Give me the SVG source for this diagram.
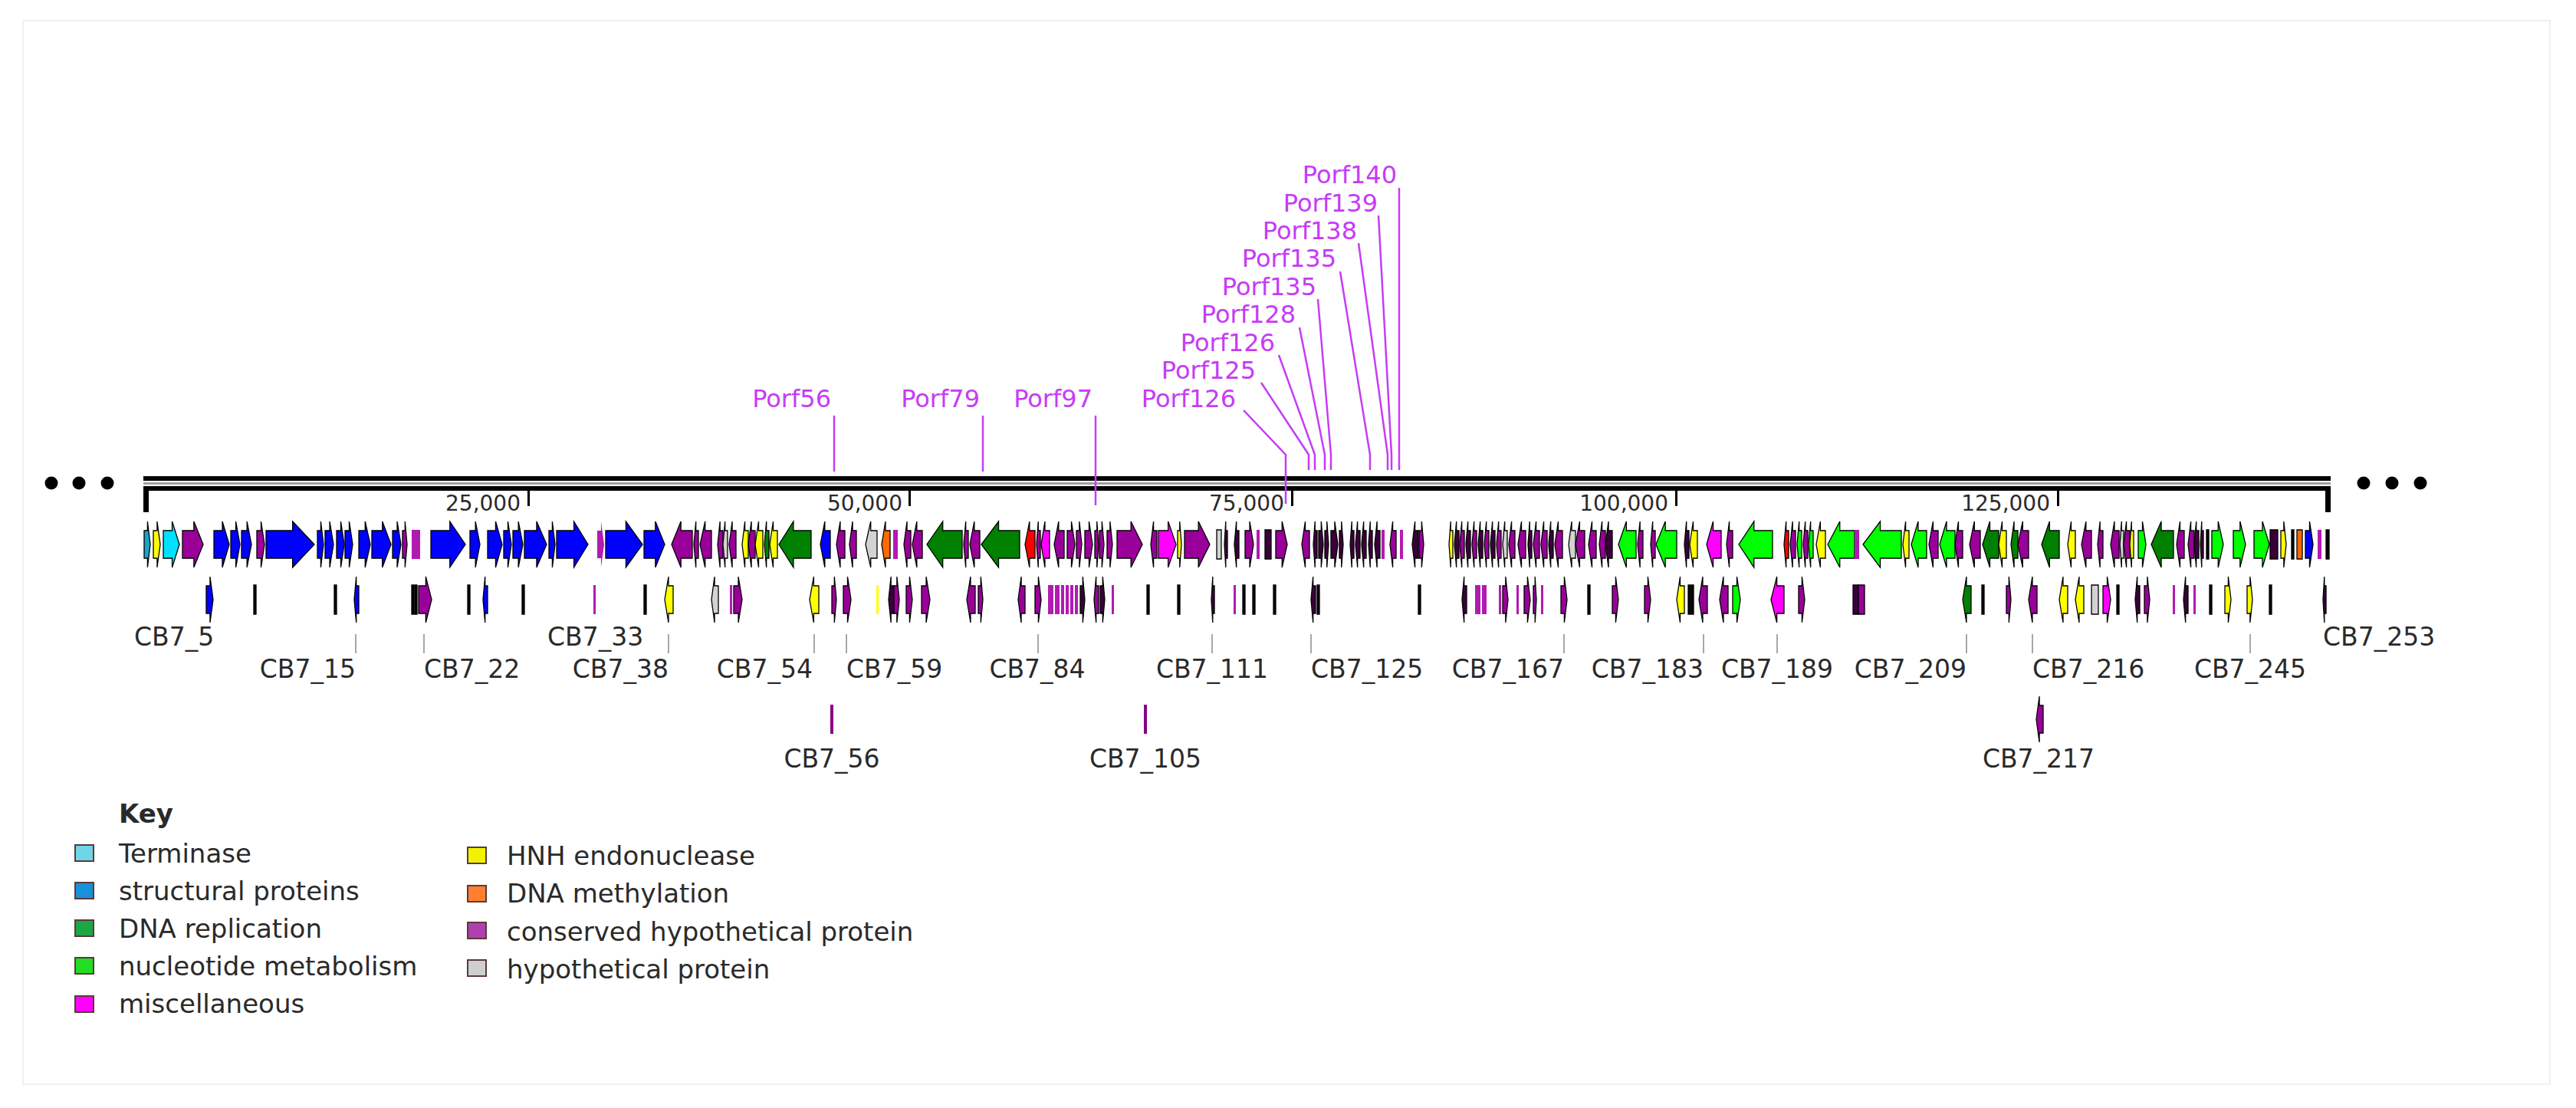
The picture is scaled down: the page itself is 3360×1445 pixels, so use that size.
<svg xmlns="http://www.w3.org/2000/svg" width="3360" height="1445" viewBox="0 0 3360 1445">
<style>
text{font-family:"DejaVu Sans",Verdana,sans-serif}
use{stroke:#000;stroke-width:1.3}
.t{fill:#1fa3c8}.c{fill:#00e1ff}.y{fill:#ffff00}.p{fill:#990099}.p2{fill:#b21bb2;stroke:none}.y2{fill:#ffff00;stroke:none}
.b{fill:#0000ff}.h{fill:#d3d3d3}.g{fill:#008000}.l{fill:#00ff00}.m{fill:#ff00ff}.o{fill:#ff6a00}.r{fill:#ff0000}.d{fill:#3a003a}.k{fill:#000}
.porf{fill:#c63cf5;font-size:32px}
.pl{stroke:#c63cf5;stroke-width:2.5;fill:none}
.cb{fill:#2a2a2a;font-size:33px}
.ld{stroke:#8a8a8a;stroke-width:1.5}
.sc{fill:#2a2a2a;font-size:28px;text-anchor:end}
.lg{fill:#2a2a2a;font-size:34px}
.sq{stroke:#5a3a3a;stroke-width:2}
</style>
<defs>
<path id="F" d="M0,-18H.55V-30L1,0L.55,30V18H0Z" vector-effect="non-scaling-stroke"/>
<path id="R" d="M1,-18H.45V-30L0,0L.45,30V18H1Z" vector-effect="non-scaling-stroke"/>
<path id="N" d="M0,-19H1V19H0Z" vector-effect="non-scaling-stroke"/>
</defs>
<rect x="0" y="0" width="3360" height="1445" fill="#fff"/>
<rect x="30" y="27" width="3296" height="1387" fill="none" stroke="#f0f0f0" stroke-width="2"/>

<g id="axis">
<circle cx="67" cy="630" r="8.5"/><circle cx="103" cy="630" r="8.5"/><circle cx="140" cy="630" r="8.5"/>
<circle cx="3083" cy="630" r="8.5"/><circle cx="3120" cy="630" r="8.5"/><circle cx="3157" cy="630" r="8.5"/>
<rect x="187" y="621" width="2853" height="6" fill="#000"/>
<rect x="187" y="629" width="2853" height="3" fill="#a0a0a0"/>
<rect x="187" y="634" width="2853" height="6" fill="#000"/>
<rect x="187" y="634" width="7" height="34" fill="#000"/>
<rect x="3033" y="634" width="7" height="34" fill="#000"/>
<g fill="#000"><rect x="688" y="640" width="3" height="20"/><rect x="1185" y="640" width="3" height="20"/><rect x="1684" y="640" width="3" height="20"/><rect x="2185" y="640" width="3" height="20"/><rect x="2683" y="640" width="3" height="20"/></g>
<text class="sc" x="679" y="666">25,000</text>
<text class="sc" x="1177" y="666">50,000</text>
<text class="sc" x="1675" y="666">75,000</text>
<text class="sc" x="2176" y="666">100,000</text>
<text class="sc" x="2674" y="666">125,000</text>
</g>

<g id="genes-top">
<use href="#F" class="t" transform="matrix(8 0 0 1 188 710)"/>
<use href="#F" class="y" transform="matrix(9 0 0 1 200 710)"/>
<use href="#F" class="c" transform="matrix(21 0 0 1 213 710)"/>
<use href="#F" class="p" transform="matrix(27 0 0 1 238 710)"/>
<use href="#F" class="b" transform="matrix(20 0 0 1 279 710)"/>
<use href="#F" class="b" transform="matrix(12 0 0 1 301 710)"/>
<use href="#F" class="b" transform="matrix(13 0 0 1 315 710)"/>
<use href="#F" class="p" transform="matrix(10 0 0 1 335 710)"/>
<use href="#F" class="b" transform="matrix(63 0 0 1 347 710)"/>
<use href="#F" class="b" transform="matrix(8 0 0 1 414 710)"/>
<use href="#F" class="b" transform="matrix(11 0 0 1 424 710)"/>
<use href="#F" class="b" transform="matrix(10 0 0 1 439 710)"/>
<use href="#F" class="b" transform="matrix(10 0 0 1 450 710)"/>
<use href="#F" class="b" transform="matrix(15 0 0 1 468 710)"/>
<use href="#F" class="b" transform="matrix(25 0 0 1 485 710)"/>
<use href="#F" class="b" transform="matrix(11 0 0 1 512 710)"/>
<use href="#F" class="p" transform="matrix(6 0 0 1 525 710)"/>
<use href="#N" class="p2" transform="matrix(11 0 0 1 537 710)"/>
<use href="#F" class="b" transform="matrix(45 0 0 1 562 710)"/>
<use href="#F" class="b" transform="matrix(13 0 0 1 613 710)"/>
<use href="#F" class="b" transform="matrix(19 0 0 1 636 710)"/>
<use href="#F" class="b" transform="matrix(10 0 0 1 657 710)"/>
<use href="#F" class="b" transform="matrix(13 0 0 1 669 710)"/>
<use href="#F" class="b" transform="matrix(29 0 0 1 684 710)"/>
<use href="#F" class="b" transform="matrix(8 0 0 1 716 710)"/>
<use href="#F" class="b" transform="matrix(41 0 0 1 726 710)"/>
<use href="#F" class="p2" transform="matrix(9 0 0 1 779 710)"/>
<use href="#F" class="b" transform="matrix(48 0 0 1 790 710)"/>
<use href="#F" class="b" transform="matrix(27 0 0 1 840 710)"/>
<use href="#R" class="p" transform="matrix(27 0 0 1 876 710)"/>
<use href="#R" class="p" transform="matrix(6 0 0 1 905 710)"/>
<use href="#R" class="p" transform="matrix(15 0 0 1 913 710)"/>
<use href="#R" class="p" transform="matrix(7 0 0 1 936 710)"/>
<use href="#R" class="h" transform="matrix(6 0 0 1 943 710)"/>
<use href="#R" class="p" transform="matrix(9 0 0 1 951 710)"/>
<use href="#R" class="y" transform="matrix(8 0 0 1 968 710)"/>
<use href="#R" class="p" transform="matrix(9 0 0 1 976 710)"/>
<use href="#R" class="y" transform="matrix(10 0 0 1 985 710)"/>
<use href="#R" class="g" transform="matrix(6 0 0 1 997 710)"/>
<use href="#R" class="y" transform="matrix(10 0 0 1 1004 710)"/>
<use href="#R" class="g" transform="matrix(42 0 0 1 1016 710)"/>
<use href="#R" class="b" transform="matrix(13 0 0 1 1070 710)"/>
<use href="#R" class="p" transform="matrix(11 0 0 1 1091 710)"/>
<use href="#R" class="p" transform="matrix(9 0 0 1 1108 710)"/>
<use href="#R" class="h" transform="matrix(15 0 0 1 1129 710)"/>
<use href="#R" class="o" transform="matrix(11 0 0 1 1150 710)"/>
<use href="#N" class="p2" transform="matrix(6 0 0 1 1165 710)"/>
<use href="#R" class="p" transform="matrix(9 0 0 1 1179 710)"/>
<use href="#R" class="p" transform="matrix(13 0 0 1 1190 710)"/>
<use href="#R" class="g" transform="matrix(46 0 0 1 1209 710)"/>
<use href="#R" class="p" transform="matrix(6 0 0 1 1257 710)"/>
<use href="#R" class="p" transform="matrix(13 0 0 1 1265 710)"/>
<use href="#R" class="g" transform="matrix(50 0 0 1 1280 710)"/>
<use href="#R" class="r" transform="matrix(13 0 0 1 1337 710)"/>
<use href="#R" class="p" transform="matrix(5 0 0 1 1352 710)"/>
<use href="#R" class="m" transform="matrix(11 0 0 1 1358 710)"/>
<use href="#R" class="p" transform="matrix(13 0 0 1 1375 710)"/>
<use href="#F" class="p" transform="matrix(10 0 0 1 1392 710)"/>
<use href="#F" class="p" transform="matrix(7 0 0 1 1404 710)"/>
<use href="#F" class="p" transform="matrix(10 0 0 1 1415 710)"/>
<use href="#F" class="p" transform="matrix(5 0 0 1 1428 710)"/>
<use href="#F" class="p" transform="matrix(6 0 0 1 1434 710)"/>
<use href="#F" class="p" transform="matrix(7 0 0 1 1444 710)"/>
<use href="#F" class="p" transform="matrix(33 0 0 1 1457 710)"/>
<use href="#R" class="p" transform="matrix(8 0 0 1 1501 710)"/>
<use href="#F" class="m" transform="matrix(23 0 0 1 1511 710)"/>
<use href="#F" class="y" transform="matrix(5 0 0 1 1536 710)"/>
<use href="#F" class="p" transform="matrix(33 0 0 1 1545 710)"/>
<use href="#N" class="h" transform="matrix(6 0 0 1 1587 710)"/>
<use href="#R" class="d" transform="matrix(4 0 0 1 1597 710)"/>
<use href="#R" class="d" transform="matrix(6 0 0 1 1610 710)"/>
<use href="#F" class="p" transform="matrix(11 0 0 1 1624 710)"/>
<use href="#N" class="p2" transform="matrix(4 0 0 1 1639 710)"/>
<use href="#N" class="d" transform="matrix(8 0 0 1 1650 710)"/>
<use href="#F" class="p" transform="matrix(15 0 0 1 1664 710)"/>
<use href="#R" class="p" transform="matrix(10 0 0 1 1698 710)"/>
<use href="#R" class="d" transform="matrix(5 0 0 1 1713 710)"/>
<use href="#F" class="d" transform="matrix(6 0 0 1 1720 710)"/>
<use href="#F" class="d" transform="matrix(5 0 0 1 1728 710)"/>
<use href="#F" class="d" transform="matrix(9 0 0 1 1736 710)"/>
<use href="#F" class="d" transform="matrix(5 0 0 1 1747 710)"/>
<use href="#R" class="d" transform="matrix(5 0 0 1 1761 710)"/>
<use href="#R" class="d" transform="matrix(6 0 0 1 1768 710)"/>
<use href="#R" class="d" transform="matrix(6 0 0 1 1776 710)"/>
<use href="#R" class="d" transform="matrix(5 0 0 1 1785 710)"/>
<use href="#R" class="d" transform="matrix(7 0 0 1 1793 710)"/>
<use href="#N" class="p2" transform="matrix(4 0 0 1 1802 710)"/>
<use href="#R" class="p" transform="matrix(8 0 0 1 1813 710)"/>
<use href="#N" class="p2" transform="matrix(4 0 0 1 1826 710)"/>
<use href="#R" class="d" transform="matrix(8 0 0 1 1842 710)"/>
<use href="#F" class="p" transform="matrix(6 0 0 1 1851 710)"/>
<use href="#R" class="y" transform="matrix(5 0 0 1 1890 710)"/>
<use href="#R" class="d" transform="matrix(6 0 0 1 1897 710)"/>
<use href="#R" class="p" transform="matrix(6 0 0 1 1904 710)"/>
<use href="#R" class="d" transform="matrix(6 0 0 1 1912 710)"/>
<use href="#R" class="p" transform="matrix(6 0 0 1 1920 710)"/>
<use href="#R" class="d" transform="matrix(6 0 0 1 1928 710)"/>
<use href="#R" class="p" transform="matrix(6 0 0 1 1936 710)"/>
<use href="#R" class="d" transform="matrix(6 0 0 1 1944 710)"/>
<use href="#R" class="p" transform="matrix(6 0 0 1 1952 710)"/>
<use href="#R" class="h" transform="matrix(6 0 0 1 1960 710)"/>
<use href="#R" class="p" transform="matrix(8 0 0 1 1968 710)"/>
<use href="#R" class="p" transform="matrix(10 0 0 1 1980 710)"/>
<use href="#R" class="d" transform="matrix(5 0 0 1 1993 710)"/>
<use href="#R" class="p" transform="matrix(8 0 0 1 2000 710)"/>
<use href="#R" class="p" transform="matrix(8 0 0 1 2010 710)"/>
<use href="#R" class="d" transform="matrix(6 0 0 1 2020 710)"/>
<use href="#R" class="p" transform="matrix(10 0 0 1 2028 710)"/>
<use href="#R" class="h" transform="matrix(9 0 0 1 2046 710)"/>
<use href="#R" class="p" transform="matrix(12 0 0 1 2055 710)"/>
<use href="#R" class="p" transform="matrix(10 0 0 1 2072 710)"/>
<use href="#R" class="p" transform="matrix(8 0 0 1 2086 710)"/>
<use href="#R" class="d" transform="matrix(9 0 0 1 2094 710)"/>
<use href="#R" class="l" transform="matrix(23 0 0 1 2111 710)"/>
<use href="#R" class="p" transform="matrix(7 0 0 1 2136 710)"/>
<use href="#R" class="p" transform="matrix(6 0 0 1 2153 710)"/>
<use href="#R" class="l" transform="matrix(27 0 0 1 2160 710)"/>
<use href="#R" class="d" transform="matrix(6 0 0 1 2197 710)"/>
<use href="#R" class="y" transform="matrix(10 0 0 1 2204 710)"/>
<use href="#R" class="m" transform="matrix(19 0 0 1 2226 710)"/>
<use href="#R" class="p" transform="matrix(8 0 0 1 2252 710)"/>
<use href="#R" class="l" transform="matrix(44 0 0 1 2268 710)"/>
<use href="#R" class="r" transform="matrix(6 0 0 1 2327 710)"/>
<use href="#R" class="p" transform="matrix(7 0 0 1 2335 710)"/>
<use href="#R" class="l" transform="matrix(6 0 0 1 2344 710)"/>
<use href="#R" class="p" transform="matrix(6 0 0 1 2352 710)"/>
<use href="#R" class="l" transform="matrix(6 0 0 1 2359 710)"/>
<use href="#R" class="y" transform="matrix(12 0 0 1 2369 710)"/>
<use href="#R" class="l" transform="matrix(35 0 0 1 2384 710)"/>
<use href="#N" class="p2" transform="matrix(6 0 0 1 2419 710)"/>
<use href="#R" class="l" transform="matrix(50 0 0 1 2430 710)"/>
<use href="#R" class="y" transform="matrix(8 0 0 1 2482 710)"/>
<use href="#R" class="l" transform="matrix(20 0 0 1 2493 710)"/>
<use href="#R" class="p" transform="matrix(12 0 0 1 2516 710)"/>
<use href="#R" class="l" transform="matrix(20 0 0 1 2530 710)"/>
<use href="#R" class="p" transform="matrix(10 0 0 1 2550 710)"/>
<use href="#R" class="p" transform="matrix(14 0 0 1 2569 710)"/>
<use href="#R" class="g" transform="matrix(21 0 0 1 2586 710)"/>
<use href="#R" class="y" transform="matrix(10 0 0 1 2607 710)"/>
<use href="#R" class="g" transform="matrix(9 0 0 1 2623 710)"/>
<use href="#R" class="p" transform="matrix(14 0 0 1 2632 710)"/>
<use href="#R" class="g" transform="matrix(23 0 0 1 2663 710)"/>
<use href="#R" class="y" transform="matrix(10 0 0 1 2697 710)"/>
<use href="#R" class="p" transform="matrix(13 0 0 1 2715 710)"/>
<use href="#R" class="p" transform="matrix(7 0 0 1 2736 710)"/>
<use href="#R" class="p" transform="matrix(11 0 0 1 2753 710)"/>
<use href="#R" class="h" transform="matrix(5 0 0 1 2765 710)"/>
<use href="#R" class="p" transform="matrix(8 0 0 1 2770 710)"/>
<use href="#R" class="y" transform="matrix(5 0 0 1 2778 710)"/>
<use href="#F" class="l" transform="matrix(10 0 0 1 2789 710)"/>
<use href="#R" class="g" transform="matrix(29 0 0 1 2806 710)"/>
<use href="#R" class="p" transform="matrix(10 0 0 1 2839 710)"/>
<use href="#R" class="p" transform="matrix(8 0 0 1 2854 710)"/>
<use href="#R" class="d" transform="matrix(6 0 0 1 2862 710)"/>
<use href="#R" class="d" transform="matrix(4 0 0 1 2870 710)"/>
<use href="#N" class="k" transform="matrix(3 0 0 1 2878 710)"/>
<use href="#F" class="l" transform="matrix(15 0 0 1 2885 710)"/>
<use href="#F" class="l" transform="matrix(16 0 0 1 2913 710)"/>
<use href="#F" class="l" transform="matrix(20 0 0 1 2940 710)"/>
<use href="#N" class="d" transform="matrix(10 0 0 1 2961 710)"/>
<use href="#F" class="y" transform="matrix(7 0 0 1 2975 710)"/>
<use href="#N" class="k" transform="matrix(3 0 0 1 2989 710)"/>
<use href="#N" class="o" transform="matrix(7 0 0 1 2996 710)"/>
<use href="#F" class="b" transform="matrix(10 0 0 1 3007 710)"/>
<use href="#N" class="p2" transform="matrix(5 0 0 1 3023 710)"/>
<use href="#N" class="k" transform="matrix(4 0 0 1 3034 710)"/>
</g>

<g id="genes-bottom">
<use href="#F" class="b" transform="matrix(9 0 0 1 269 782)"/>
<use href="#N" class="k" transform="matrix(3 0 0 1 331 782)"/>
<use href="#N" class="k" transform="matrix(3 0 0 1 436 782)"/>
<use href="#R" class="b" transform="matrix(6 0 0 1 462 782)"/>
<use href="#N" class="k" transform="matrix(3 0 0 1 537 782)"/>
<use href="#N" class="k" transform="matrix(3 0 0 1 541 782)"/>
<use href="#F" class="p" transform="matrix(17 0 0 1 546 782)"/>
<use href="#N" class="k" transform="matrix(3 0 0 1 610 782)"/>
<use href="#R" class="b" transform="matrix(6 0 0 1 630 782)"/>
<use href="#N" class="k" transform="matrix(3 0 0 1 681 782)"/>
<use href="#N" class="p2" transform="matrix(3 0 0 1 774 782)"/>
<use href="#N" class="k" transform="matrix(3 0 0 1 840 782)"/>
<use href="#R" class="y" transform="matrix(11 0 0 1 867 782)"/>
<use href="#R" class="h" transform="matrix(9 0 0 1 928 782)"/>
<use href="#N" class="p2" transform="matrix(3 0 0 1 952 782)"/>
<use href="#F" class="p" transform="matrix(11 0 0 1 957 782)"/>
<use href="#R" class="y" transform="matrix(12 0 0 1 1056 782)"/>
<use href="#F" class="p" transform="matrix(6 0 0 1 1085 782)"/>
<use href="#F" class="p" transform="matrix(10 0 0 1 1100 782)"/>
<use href="#N" class="y2" transform="matrix(3 0 0 1 1143 782)"/>
<use href="#R" class="d" transform="matrix(7 0 0 1 1159 782)"/>
<use href="#F" class="p" transform="matrix(7 0 0 1 1166 782)"/>
<use href="#F" class="p" transform="matrix(8 0 0 1 1182 782)"/>
<use href="#F" class="p" transform="matrix(11 0 0 1 1202 782)"/>
<use href="#R" class="p" transform="matrix(11 0 0 1 1261 782)"/>
<use href="#F" class="p" transform="matrix(6 0 0 1 1276 782)"/>
<use href="#R" class="p" transform="matrix(9 0 0 1 1328 782)"/>
<use href="#F" class="p" transform="matrix(8 0 0 1 1350 782)"/>
<use href="#N" class="p2" transform="matrix(7 0 0 1 1367 782)"/>
<use href="#N" class="p2" transform="matrix(6 0 0 1 1376 782)"/>
<use href="#N" class="p2" transform="matrix(4 0 0 1 1384 782)"/>
<use href="#N" class="p2" transform="matrix(4 0 0 1 1390 782)"/>
<use href="#N" class="p2" transform="matrix(4 0 0 1 1396 782)"/>
<use href="#N" class="p2" transform="matrix(4 0 0 1 1402 782)"/>
<use href="#F" class="d" transform="matrix(6 0 0 1 1409 782)"/>
<use href="#R" class="p" transform="matrix(6 0 0 1 1427 782)"/>
<use href="#F" class="d" transform="matrix(6 0 0 1 1435 782)"/>
<use href="#N" class="p2" transform="matrix(3 0 0 1 1450 782)"/>
<use href="#N" class="k" transform="matrix(3 0 0 1 1496 782)"/>
<use href="#N" class="k" transform="matrix(3 0 0 1 1536 782)"/>
<use href="#R" class="d" transform="matrix(4 0 0 1 1580 782)"/>
<use href="#N" class="p2" transform="matrix(3 0 0 1 1609 782)"/>
<use href="#N" class="k" transform="matrix(3 0 0 1 1621 782)"/>
<use href="#N" class="k" transform="matrix(3 0 0 1 1634 782)"/>
<use href="#N" class="k" transform="matrix(3 0 0 1 1661 782)"/>
<use href="#R" class="d" transform="matrix(6 0 0 1 1710 782)"/>
<use href="#N" class="k" transform="matrix(3 0 0 1 1718 782)"/>
<use href="#N" class="k" transform="matrix(3 0 0 1 1850 782)"/>
<use href="#R" class="d" transform="matrix(6 0 0 1 1907 782)"/>
<use href="#N" class="p2" transform="matrix(7 0 0 1 1924 782)"/>
<use href="#N" class="p2" transform="matrix(6 0 0 1 1933 782)"/>
<use href="#N" class="p2" transform="matrix(3 0 0 1 1955 782)"/>
<use href="#F" class="p" transform="matrix(7 0 0 1 1960 782)"/>
<use href="#N" class="p2" transform="matrix(3 0 0 1 1978 782)"/>
<use href="#F" class="p" transform="matrix(8 0 0 1 1988 782)"/>
<use href="#F" class="p" transform="matrix(4 0 0 1 2000 782)"/>
<use href="#N" class="p2" transform="matrix(3 0 0 1 2010 782)"/>
<use href="#F" class="p" transform="matrix(8 0 0 1 2036 782)"/>
<use href="#N" class="k" transform="matrix(3 0 0 1 2071 782)"/>
<use href="#F" class="p" transform="matrix(8 0 0 1 2103 782)"/>
<use href="#F" class="p" transform="matrix(8 0 0 1 2145 782)"/>
<use href="#R" class="y" transform="matrix(10 0 0 1 2187 782)"/>
<use href="#N" class="k" transform="matrix(3 0 0 1 2202 782)"/>
<use href="#N" class="k" transform="matrix(3 0 0 1 2206 782)"/>
<use href="#R" class="p" transform="matrix(11 0 0 1 2216 782)"/>
<use href="#R" class="p" transform="matrix(11 0 0 1 2243 782)"/>
<use href="#F" class="l" transform="matrix(10 0 0 1 2260 782)"/>
<use href="#R" class="m" transform="matrix(17 0 0 1 2310 782)"/>
<use href="#F" class="p" transform="matrix(8 0 0 1 2346 782)"/>
<use href="#N" class="d" transform="matrix(7 0 0 1 2417 782)"/>
<use href="#N" class="p" transform="matrix(8 0 0 1 2424 782)"/>
<use href="#R" class="g" transform="matrix(11 0 0 1 2560 782)"/>
<use href="#N" class="k" transform="matrix(3 0 0 1 2585 782)"/>
<use href="#F" class="p" transform="matrix(6 0 0 1 2617 782)"/>
<use href="#R" class="p" transform="matrix(11 0 0 1 2646 782)"/>
<use href="#R" class="y" transform="matrix(11 0 0 1 2686 782)"/>
<use href="#R" class="y" transform="matrix(11 0 0 1 2707 782)"/>
<use href="#N" class="h" transform="matrix(9 0 0 1 2728 782)"/>
<use href="#F" class="m" transform="matrix(10 0 0 1 2743 782)"/>
<use href="#N" class="k" transform="matrix(3 0 0 1 2761 782)"/>
<use href="#R" class="d" transform="matrix(6 0 0 1 2785 782)"/>
<use href="#F" class="p" transform="matrix(7 0 0 1 2797 782)"/>
<use href="#N" class="p2" transform="matrix(3 0 0 1 2834 782)"/>
<use href="#R" class="d" transform="matrix(6 0 0 1 2848 782)"/>
<use href="#N" class="p2" transform="matrix(3 0 0 1 2861 782)"/>
<use href="#N" class="k" transform="matrix(3 0 0 1 2882 782)"/>
<use href="#F" class="y" transform="matrix(8 0 0 1 2902 782)"/>
<use href="#F" class="y" transform="matrix(7 0 0 1 2931 782)"/>
<use href="#N" class="k" transform="matrix(3 0 0 1 2960 782)"/>
<use href="#R" class="d" transform="matrix(4 0 0 1 3030 782)"/>
</g>

<g id="genes-third">
<use href="#N" class="p2" transform="matrix(4 0 0 1 1083 938)" style="fill:#880088"/>
<use href="#N" class="p2" transform="matrix(4 0 0 1 1492 938)" style="fill:#880088"/>
<use href="#R" class="p" transform="matrix(9 0 0 1 2656 938)"/>
</g>

<g id="gene-label-leaders" class="ld">
<line x1="464" y1="827" x2="464" y2="852"/>
<line x1="553" y1="827" x2="553" y2="852"/>
<line x1="872" y1="827" x2="872" y2="852"/>
<line x1="1062" y1="827" x2="1062" y2="852"/>
<line x1="1104" y1="827" x2="1104" y2="852"/>
<line x1="1354" y1="827" x2="1354" y2="852"/>
<line x1="1581" y1="827" x2="1581" y2="852"/>
<line x1="1710" y1="827" x2="1710" y2="852"/>
<line x1="2040" y1="827" x2="2040" y2="852"/>
<line x1="2222" y1="827" x2="2222" y2="852"/>
<line x1="2318" y1="827" x2="2318" y2="852"/>
<line x1="2565" y1="827" x2="2565" y2="852"/>
<line x1="2651" y1="827" x2="2651" y2="852"/>
<line x1="2935" y1="827" x2="2935" y2="852"/>
</g>

<g id="gene-labels">
<text class="cb" x="175" y="842">CB7_5</text>
<text class="cb" x="714" y="842">CB7_33</text>
<text class="cb" x="3030" y="842">CB7_253</text>
<text class="cb" x="464" y="884" text-anchor="end">CB7_15</text>
<text class="cb" x="553" y="884">CB7_22</text>
<text class="cb" x="872" y="884" text-anchor="end">CB7_38</text>
<text class="cb" x="1060" y="884" text-anchor="end">CB7_54</text>
<text class="cb" x="1104" y="884">CB7_59</text>
<text class="cb" x="1353" y="884" text-anchor="middle">CB7_84</text>
<text class="cb" x="1581" y="884" text-anchor="middle">CB7_111</text>
<text class="cb" x="1710" y="884">CB7_125</text>
<text class="cb" x="2040" y="884" text-anchor="end">CB7_167</text>
<text class="cb" x="2222" y="884" text-anchor="end">CB7_183</text>
<text class="cb" x="2318" y="884" text-anchor="middle">CB7_189</text>
<text class="cb" x="2565" y="884" text-anchor="end">CB7_209</text>
<text class="cb" x="2651" y="884">CB7_216</text>
<text class="cb" x="2935" y="884" text-anchor="middle">CB7_245</text>
<text class="cb" x="1085" y="1001" text-anchor="middle">CB7_56</text>
<text class="cb" x="1494" y="1001" text-anchor="middle">CB7_105</text>
<text class="cb" x="2659" y="1001" text-anchor="middle">CB7_217</text>
</g>

<g id="connectors" class="pl">
<path d="M1825 245V613"/>
<path d="M1798 281L1815 593V613"/>
<path d="M1772 317L1810 593V613"/>
<path d="M1748 354L1787 593V613"/>
<path d="M1719 390L1736 593V613"/>
<path d="M1695 427L1728 593V613"/>
<path d="M1668 463L1715 593V613"/>
<path d="M1645 499L1707 593V613"/>
<path d="M1622 535L1677 593V657"/>
<path d="M1088 542V615"/>
<path d="M1282 542V615"/>
<path d="M1429 542V659"/>
</g>

<g id="porf-labels" text-anchor="end">
<text class="porf" x="1822" y="239">Porf140</text>
<text class="porf" x="1797" y="276">Porf139</text>
<text class="porf" x="1770" y="312">Porf138</text>
<text class="porf" x="1743" y="348">Porf135</text>
<text class="porf" x="1717" y="385">Porf135</text>
<text class="porf" x="1690" y="421">Porf128</text>
<text class="porf" x="1663" y="458">Porf126</text>
<text class="porf" x="1638" y="494">Porf125</text>
<text class="porf" x="1612" y="531">Porf126</text>
<text class="porf" x="1084" y="531">Porf56</text>
<text class="porf" x="1278" y="531">Porf79</text>
<text class="porf" x="1425" y="531">Porf97</text>
</g>

<g id="legend">
<text x="155" y="1073" font-size="34" font-weight="bold" fill="#2a2a2a">Key</text>
<rect class="sq" x="98" y="1102" width="24" height="21" fill="#6fd6e8"/>
<rect class="sq" x="98" y="1151" width="24" height="21" fill="#1a90d8"/>
<rect class="sq" x="98" y="1200" width="24" height="21" fill="#1aa845"/>
<rect class="sq" x="98" y="1249" width="24" height="21" fill="#22dd22"/>
<rect class="sq" x="98" y="1299" width="24" height="21" fill="#ff00ff"/>
<text class="lg" x="155" y="1125">Terminase</text>
<text class="lg" x="155" y="1174">structural proteins</text>
<text class="lg" x="155" y="1223">DNA replication</text>
<text class="lg" x="155" y="1272">nucleotide metabolism</text>
<text class="lg" x="155" y="1321">miscellaneous</text>
<rect class="sq" x="610" y="1105" width="24" height="21" fill="#f2f200"/>
<rect class="sq" x="610" y="1155" width="24" height="21" fill="#ff8030"/>
<rect class="sq" x="610" y="1203" width="24" height="21" fill="#b040b0"/>
<rect class="sq" x="610" y="1252" width="24" height="21" fill="#cfcfcf"/>
<text class="lg" x="661" y="1128">HNH endonuclease</text>
<text class="lg" x="661" y="1177">DNA methylation</text>
<text class="lg" x="661" y="1227">conserved hypothetical protein</text>
<text class="lg" x="661" y="1276">hypothetical protein</text>
</g>
</svg>
